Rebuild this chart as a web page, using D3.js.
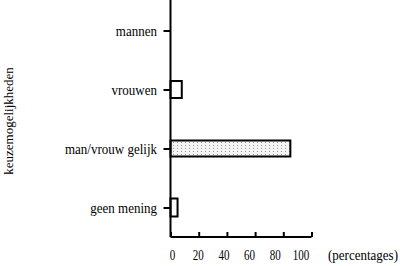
<!DOCTYPE html>
<html><head><meta charset="utf-8">
<script src="https://cdn.jsdelivr.net/npm/d3@7"></script>
<style>body{margin:0;background:#fff}svg{display:block}</style>
</head><body>
<script>
const categories = ["mannen", "vrouwen", "man/vrouw gelijk", "geen mening"];
const values = [0, 8, 85, 5];
const xTicks = [0, 20, 40, 60, 80, 100];
const yTitle = "keuzemogelijkheden";
const xTitle = "(percentages)";

const W = 400, H = 266;
const svg = d3.select("body").append("svg").attr("width", W).attr("height", H);
const font = "'Liberation Serif', 'Times New Roman', serif";

const defs = svg.append("defs");
const pat = defs.append("pattern").attr("id", "dots").attr("patternUnits", "userSpaceOnUse")
  .attr("width", 4).attr("height", 3);
pat.append("rect").attr("width", 4).attr("height", 3).attr("fill", "#f4f4f4");
pat.append("rect").attr("x", 1).attr("y", 1).attr("width", 1).attr("height", 1).attr("fill", "#999");

const x = d3.scaleLinear().domain([0, 100]).range([170.5, 311.5]);
const xLab = d3.scaleLinear().domain([0, 100]).range([172.5, 301]);
const y = d3.scalePoint().domain(categories).range([1, 237]).padding(0.5);
const barH = [0, 17, 16, 18];

svg.append("g").selectAll("rect").data(categories).join("rect")
  .attr("x", x(0))
  .attr("y", (d, i) => y(d) - barH[i] / 2)
  .attr("width", (d, i) => x(values[i]) - x(0))
  .attr("height", (d, i) => barH[i])
  .attr("fill", (d, i) => i === 2 ? "url(#dots)" : "#fff")
  .attr("stroke", "#000").attr("stroke-width", 2)
  .attr("display", (d, i) => values[i] > 0 ? null : "none");

const gy = svg.append("g").attr("transform", `translate(${x(0)},0)`)
  .call(d3.axisLeft(y).tickSize(7).tickFormat(""));
gy.select(".domain").attr("d", "M0,0V237").attr("stroke-width", 2);
gy.selectAll(".tick line").attr("stroke-width", 2);

svg.append("g").selectAll("text").data(categories).join("text")
  .attr("transform", d => `translate(157,${y(d) + 5}) scale(1,1.15)`)
  .attr("text-anchor", "end").attr("font-family", font).attr("font-size", 13)
  .text(d => d);

const gx = svg.append("g").attr("transform", `translate(0,237)`)
  .call(d3.axisBottom(x).tickValues(xTicks).tickSize(-5).tickFormat(""));
gx.select(".domain").attr("d", `M${x(0)},0H${x(100)}`).attr("stroke-width", 2);
gx.selectAll(".tick line").attr("stroke-width", 2);

svg.append("g").selectAll("text").data(xTicks).join("text")
  .attr("transform", d => `translate(${xLab(d)},260) scale(0.85,1.1)`)
  .attr("text-anchor", "middle").attr("font-family", font).attr("font-size", 13)
  .text(d => d);

svg.append("text").attr("transform", "translate(328,260) scale(1,1.1)")
  .attr("font-family", font).attr("font-size", 13).text(xTitle);
svg.append("text").attr("transform", "translate(13,121) rotate(-90)").attr("text-anchor", "middle")
  .attr("font-family", font).attr("font-size", 13).text(yTitle);
</script>
</body></html>
